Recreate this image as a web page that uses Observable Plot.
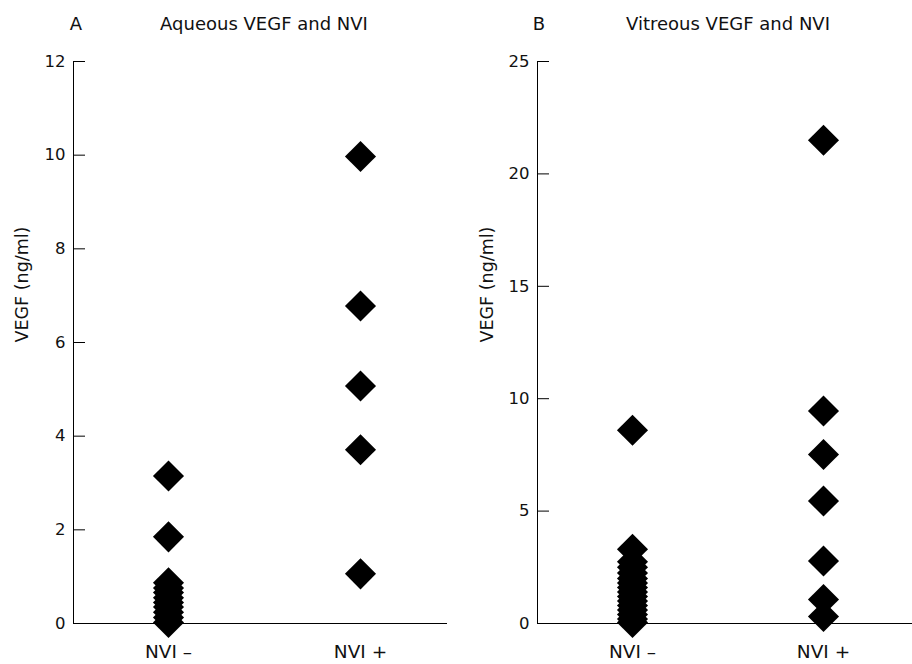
<!DOCTYPE html>
<html>
<head>
<meta charset="utf-8">
<script src="https://cdn.jsdelivr.net/npm/d3@7"></script>
<script src="https://cdn.jsdelivr.net/npm/@observablehq/plot@0.6"></script>
<style>
  html, body { margin: 0; padding: 0; background: #fff; }
  #wrap { position: relative; width: 912px; height: 664px; font-family: "DejaVu Sans", sans-serif; color: #111; }
  .panel { position: absolute; top: 0; width: 456px; height: 664px; }
  .ttl { position: absolute; top: 13px; font-size: 18px; white-space: nowrap; transform: translateX(-50%); }
  svg { display: block; }
</style>
</head>
<body>
<div id="wrap">
  <div class="panel" id="pA" style="left:0"></div>
  <div class="panel" id="pB" style="left:456px"></div>
</div>
<script>
// Categories and labels
const categories = ["NVI –", "NVI +"];
const panelLetters = ["A", "B"];
const panelTitles = ["Aqueous VEGF and NVI", "Vitreous VEGF and NVI"];
const yLabel = "VEGF (ng/ml)";

// Panel A: aqueous VEGF (ng/ml)
const aqueousNeg = [3.15, 1.85, 0.87, 0.76, 0.66, 0.55, 0.45, 0.35, 0.24, 0.13, 0.02];
const aqueousPos = [9.97, 6.78, 5.07, 3.71, 1.06];
const yTicksA = [0, 2, 4, 6, 8, 10, 12];

// Panel B: vitreous VEGF (ng/ml)
const vitreousNeg = [8.6, 3.3, 2.75, 2.5, 2.25, 2.0, 1.8, 1.6, 1.4, 1.2, 1.0, 0.8, 0.6, 0.4, 0.2, 0.05];
const vitreousPos = [21.5, 9.45, 7.52, 5.45, 2.78, 1.07, 0.31];
const yTicksB = [0, 5, 10, 15, 20, 25];

function rows(neg, pos) {
  return [
    ...neg.map(v => ({group: categories[0], value: v})),
    ...pos.map(v => ({group: categories[1], value: v}))
  ];
}

function panel({data, ticks, yMax, marginLeft, marginRight, xRange, labelDx}) {
  return Plot.plot({
    width: 456,
    height: 664,
    marginTop: 61,
    marginBottom: 41,
    marginLeft,
    marginRight,
    style: {fontFamily: "DejaVu Sans, sans-serif", fontSize: "16px", color: "#111", background: "transparent", overflow: "visible"},
    x: {type: "point", domain: categories, range: xRange, padding: 0},
    y: {domain: [0, yMax]},
    marks: [
      Plot.frame({anchor: "left", stroke: "#000"}),
      Plot.ruleY([0], {stroke: "#000"}),
      Plot.axisY({ticks, tickSize: -12, tickPadding: 20, label: null, stroke: "#000", fontSize: 16.5}),
      Plot.axisX({tickSize: 0, tickPadding: 21, label: null, fontSize: 18.5}),
      Plot.text([yLabel], {frameAnchor: "left", rotate: -90, dx: labelDx, text: d => d, fontSize: 17.5}),
      Plot.dot(data, {x: "group", y: "value", symbol: "diamond2", r: 14, fill: "#000", stroke: null})
    ]
  });
}

const figs = [
  {el: "pA", data: rows(aqueousNeg, aqueousPos), ticks: yTicksA, yMax: 12, marginLeft: 73, marginRight: 9, xRange: [168, 360], labelDx: -51, letterX: 76, titleX: 264},
  {el: "pB", data: rows(vitreousNeg, vitreousPos), ticks: yTicksB, yMax: 25, marginLeft: 81, marginRight: 0, xRange: [176, 367], labelDx: -50, letterX: 83, titleX: 272}
];

figs.forEach((f, i) => {
  const host = document.getElementById(f.el);
  host.appendChild(panel(f));
  const l = document.createElement("div");
  l.className = "ttl"; l.style.left = f.letterX + "px"; l.textContent = panelLetters[i];
  const t = document.createElement("div");
  t.className = "ttl"; t.style.left = f.titleX + "px"; t.textContent = panelTitles[i];
  host.appendChild(l); host.appendChild(t);
});
</script>
</body>
</html>
